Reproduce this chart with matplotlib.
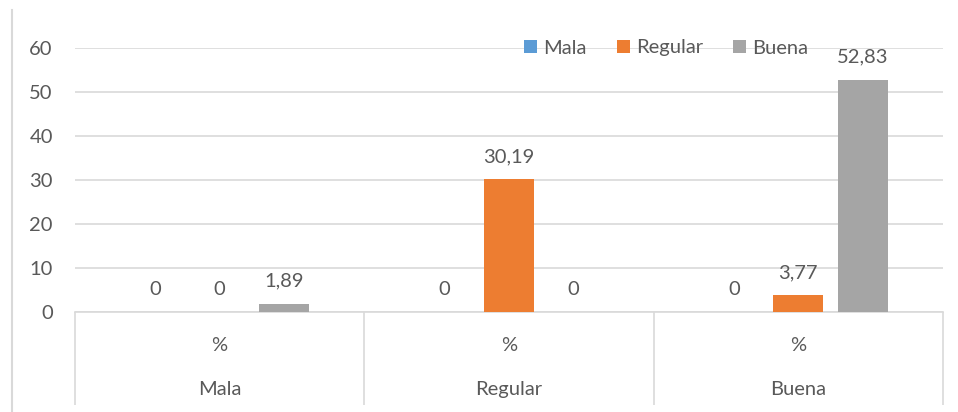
import matplotlib
matplotlib.use("Agg")
import matplotlib.pyplot as plt
from matplotlib.lines import Line2D
import numpy as np

# datos
groups = ["Mala", "Regular", "Buena"]
series = ["Mala", "Regular", "Buena"]
mala = [0, 0, 0]
regular = [0, 30.19, 3.77]
buena = [1.89, 0, 52.83]
colors = ["#5B9BD5", "#ED7D31", "#A5A5A5"]

txt = "#595959"
grid = "#D9D9D9"
fs = 14.5
plt.rcParams["font.family"] = ["Lato", "DejaVu Sans"]

fig = plt.figure(figsize=(9.58, 4.12), dpi=100)
ax = fig.add_axes([75 / 958, 100 / 412, 868 / 958, 264 / 412])

x = np.arange(len(groups))
w = 0.173
off = 0.223
for i, (vals, name) in enumerate(zip([mala, regular, buena], series)):
    pos = x + (i - 1) * off
    ax.bar(pos, vals, width=w, color=colors[i], label=name, zorder=3)
    for p, v in zip(pos, vals):
        lab = f"{v:.2f}".replace(".", ",") if v else "0"
        ax.annotate(lab, (p, v), xytext=(0, 10), textcoords="offset points",
                    ha="center", va="bottom", fontsize=fs, color=txt)

ax.set_xlim(-0.5, 2.5)
ax.set_ylim(0, 60)
ax.set_yticks(range(0, 61, 10))
ax.yaxis.grid(True, color=grid, linewidth=1.2, zorder=0)
ax.set_axisbelow(True)
for s in ["top", "right", "left"]:
    ax.spines[s].set_visible(False)
ax.spines["bottom"].set_color(grid)
ax.spines["bottom"].set_linewidth(1.2)
ax.tick_params(axis="y", length=0, pad=16, labelsize=fs, labelcolor=txt)

ax.set_xticks(x)
ax.set_xticklabels(["%\n\n" + g for g in groups])
ax.set_xticks([-0.5, 0.5, 1.5, 2.5], minor=True)
ax.tick_params(axis="x", which="major", length=0, pad=18, labelsize=fs,
               labelcolor=txt)
ax.tick_params(axis="x", which="minor", length=67, width=1.2, color=grid)
for t in ax.get_xticklabels():
    t.set_linespacing(1.35)

fig.legend(loc="center", bbox_to_anchor=(666 / 958, 1 - 48 / 412), ncol=3,
           frameon=False, fontsize=fs, labelcolor=txt, handlelength=0.65,
           handleheight=0.65, handletextpad=0.3, columnspacing=1.5)

fig.add_artist(Line2D([12 / 958, 12 / 958], [0, 1 - 10 / 412],
                      transform=fig.transFigure, color=grid, linewidth=1.5))

fig.savefig("out.png", dpi=100, facecolor="white")
